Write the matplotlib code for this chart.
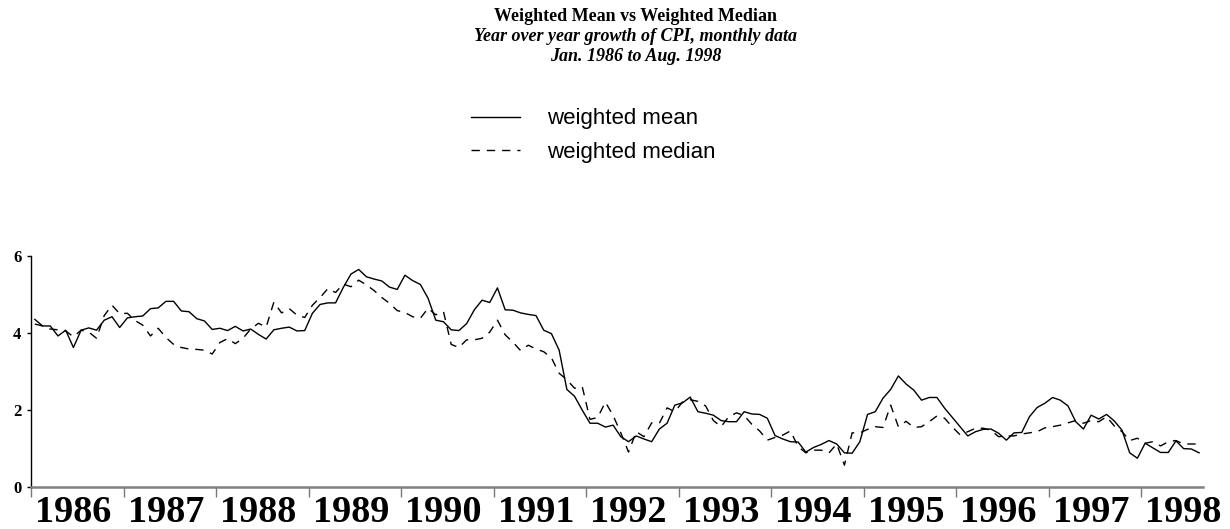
import numpy as np
import matplotlib.pyplot as plt

# monthly year-over-year CPI growth, Jan 1986 .. Aug 1998
weighted_mean = [
    4.35, 4.18, 4.18, 3.92, 4.07, 3.62, 4.07, 4.13, 4.07, 4.33, 4.42, 4.14,
    4.39, 4.42, 4.44, 4.63, 4.65, 4.82, 4.82, 4.57, 4.55, 4.37, 4.31, 4.09,
    4.12, 4.06, 4.17, 4.05, 4.10, 3.96, 3.84, 4.08, 4.12, 4.15, 4.05, 4.06,
    4.51, 4.74, 4.78, 4.78, 5.18, 5.53, 5.65, 5.46, 5.40, 5.35, 5.19, 5.13,
    5.50, 5.36, 5.26, 4.90, 4.33, 4.29, 4.08, 4.06, 4.24, 4.60, 4.85, 4.79,
    5.17, 4.60, 4.59, 4.52, 4.48, 4.45, 4.07, 3.98, 3.55, 2.53, 2.35, 1.99,
    1.65, 1.65, 1.55, 1.60, 1.30, 1.17, 1.32, 1.24, 1.17, 1.50, 1.65, 2.12,
    2.18, 2.33, 1.95, 1.91, 1.86, 1.72, 1.69, 1.69, 1.95, 1.89, 1.88, 1.78,
    1.33, 1.24, 1.17, 1.16, 0.90, 1.02, 1.10, 1.20, 1.11, 0.88, 0.87, 1.17,
    1.88, 1.95, 2.30, 2.53, 2.88, 2.67, 2.51, 2.25, 2.32, 2.32, 2.04, 1.80,
    1.56, 1.32, 1.43, 1.49, 1.50, 1.39, 1.21, 1.40, 1.41, 1.82, 2.06, 2.17,
    2.32, 2.25, 2.10, 1.69, 1.50, 1.86, 1.76, 1.88, 1.71, 1.47, 0.88, 0.74,
    1.13, 1.01, 0.89, 0.89, 1.19, 0.99, 0.98, 0.88,
]
weighted_median = [
    4.23, 4.18, 4.10, 4.08, 4.05, 3.90, 4.07, 4.02, 3.86, 4.45, 4.72, 4.50,
    4.51, 4.32, 4.20, 3.92, 4.12, 3.88, 3.70, 3.62, 3.58, 3.57, 3.55, 3.45,
    3.75, 3.85, 3.72, 3.86, 4.10, 4.25, 4.15, 4.80, 4.52, 4.63, 4.46, 4.40,
    4.72, 4.92, 5.15, 5.05, 5.27, 5.20, 5.37, 5.25, 5.10, 4.92, 4.77, 4.58,
    4.53, 4.42, 4.38, 4.64, 4.47, 4.55, 3.70, 3.62, 3.82, 3.82, 3.86, 4.02,
    4.33, 3.95, 3.76, 3.54, 3.68, 3.58, 3.51, 3.35, 2.95, 2.78, 2.56, 2.60,
    1.75, 1.80, 2.20, 1.85, 1.40, 0.90, 1.43, 1.30, 1.66, 1.65, 2.05, 1.95,
    2.20, 2.26, 2.22, 2.10, 1.72, 1.56, 1.82, 1.92, 1.85, 1.62, 1.45, 1.21,
    1.28, 1.34, 1.45, 1.04, 0.88, 0.95, 0.95, 0.88, 1.11, 0.56, 1.40, 1.40,
    1.49, 1.56, 1.54, 2.12, 1.56, 1.70, 1.54, 1.56, 1.69, 1.84, 1.78, 1.55,
    1.35, 1.43, 1.52, 1.52, 1.47, 1.30, 1.32, 1.32, 1.37, 1.40, 1.43, 1.53,
    1.56, 1.60, 1.66, 1.72, 1.65, 1.72, 1.69, 1.82, 1.58, 1.43, 1.20, 1.26,
    1.13, 1.17, 1.06, 1.17, 1.20, 1.11, 1.11, 1.11,
]
years = ['1986', '1987', '1988', '1989', '1990', '1991', '1992',
         '1993', '1994', '1995', '1996', '1997', '1998']
y_ticks = [0, 2, 4, 6]

serif = 'Liberation Serif'
sans = 'Liberation Sans'

n = len(weighted_mean)
x = np.arange(n) + 0.5

fig = plt.figure(figsize=(12.3, 5.29), dpi=100)
ax = fig.add_axes([0.0252, 0.080, 0.9528, 0.4361])

l1, = ax.plot(x, weighted_mean, color='black', lw=1.0)
l2, = ax.plot(x, weighted_median, color='black', lw=1.0, dashes=(6, 5))

ax.set_xlim(0, n)
ax.set_ylim(0, 6)

# year boundaries as ticks, year names in between
ax.set_xticks(np.arange(0, n, 12))
ax.set_xticklabels([])
ax.set_xticks(np.arange(len(years)) * 12 + 5.5, minor=True)
ax.set_xticklabels(years, minor=True, fontfamily=serif, fontweight='bold', fontsize=27.5)
ax.tick_params(axis='x', which='major', direction='out', length=7, width=1, color='#777777')
ax.tick_params(axis='x', which='minor', length=0, pad=6)

ax.set_yticks(y_ticks)
ax.set_yticklabels([str(v) for v in y_ticks], fontfamily=serif, fontweight='bold', fontsize=12)
ax.tick_params(axis='y', direction='out', length=3, width=1, pad=4)

for s in ['top', 'right']:
    ax.spines[s].set_visible(False)
ax.spines['bottom'].set_color('#808080')
ax.spines['bottom'].set_linewidth(1.8)
ax.spines['left'].set_linewidth(1.0)

# title block
fig.text(0.517, 0.969, 'Weighted Mean vs Weighted Median', ha='center', va='center',
         fontfamily=serif, fontweight='bold', fontsize=13)
fig.text(0.517, 0.931, 'Year over year growth of CPI, monthly data', ha='center', va='center',
         fontfamily=serif, fontweight='bold', fontstyle='italic', fontsize=13)
fig.text(0.517, 0.893, 'Jan. 1986 to Aug. 1998', ha='center', va='center',
         fontfamily=serif, fontweight='bold', fontstyle='italic', fontsize=13)

fig.legend([l1, l2], ['weighted mean', 'weighted median'], loc='center left',
           bbox_to_anchor=(0.383, 0.744), frameon=False, borderpad=0, borderaxespad=0,
           handlelength=2.2, handletextpad=1.2, labelspacing=0.55,
           prop={'family': sans, 'size': 16})

fig.savefig('out.png', dpi=100)
